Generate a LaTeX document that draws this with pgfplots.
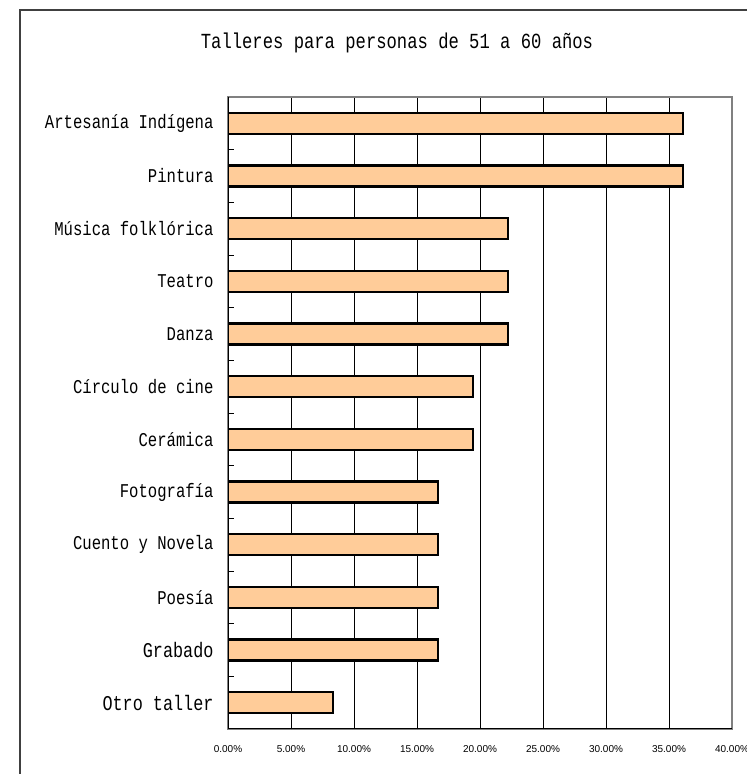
\documentclass[border=0pt]{standalone}
\usepackage{fontspec}
\usepackage{pgfplots}
\pgfplotsset{compat=1.18}
\setmainfont{Liberation Sans}
\newfontfamily\labfont[FakeStretch=0.8]{Liberation Mono}
\definecolor{barfill}{HTML}{FFCC99}

\begin{document}
\begin{tikzpicture}
\useasboundingbox (0,0) rectangle (747bp,774bp);
\clip (0,0) rectangle (747bp,774bp);
% outer chart frame (cut off at right and bottom)
\draw[line width=2bp, draw=black!75] (20bp,-20bp) rectangle (780bp,764bp);
\node[font=\labfont\fontsize{21.5bp}{24bp}\selectfont] at (397bp,731bp) {Talleres para personas de 51 a 60 años};
\begin{axis}[
  at={(228bp,45bp)}, anchor=south west,
  scale only axis,
  width=504bp, height=632bp,
  xbar, bar width=21bp,
  xmin=0, xmax=40,
  ymin=-0.5, ymax=11.5,
  xtick={0,5,...,40},
  xticklabels={0.00\%,5.00\%,10.00\%,15.00\%,20.00\%,25.00\%,30.00\%,35.00\%,40.00\%},
  xticklabel style={font=\fontsize{10bp}{12bp}\selectfont, yshift=-13bp},
  xtick style={draw=none},
  xtick pos=bottom,
  ytick pos=left,
  ytick={0,...,11},
  yticklabels={{\fontsize{21bp}{24bp}\selectfont Otro taller}, {\fontsize{21bp}{24bp}\selectfont Grabado}, Poesía, Cuento y Novela, Fotografía, Cerámica, Círculo de cine, Danza, Teatro, Música folklórica, Pintura, Artesanía Indígena},
  yticklabel style={font=\labfont\fontsize{19.5bp}{22bp}\selectfont, xshift=-11bp},
  major tick length=0pt,
  minor ytick={-0.5,0.5,...,11.5},
  minor tick length=6bp,
  every minor y tick/.style={draw=black, line width=0.8bp},
  tick align=inside,
  xmajorgrids,
  major grid style={black, line width=0.8bp},
  axis line style={draw=gray, line width=2bp},
]
\addplot[draw=black, fill=barfill, line width=2.5bp] coordinates {
  (8.33,0) (16.67,1) (16.67,2) (16.67,3) (16.67,4) (19.44,5)
  (19.44,6) (22.22,7) (22.22,8) (22.22,9) (36.11,10) (36.11,11)
};
\draw[black, line width=1.5bp] (rel axis cs:0,1) -- (rel axis cs:0,0) -- (rel axis cs:1,0);
\end{axis}
\end{tikzpicture}
\end{document}
